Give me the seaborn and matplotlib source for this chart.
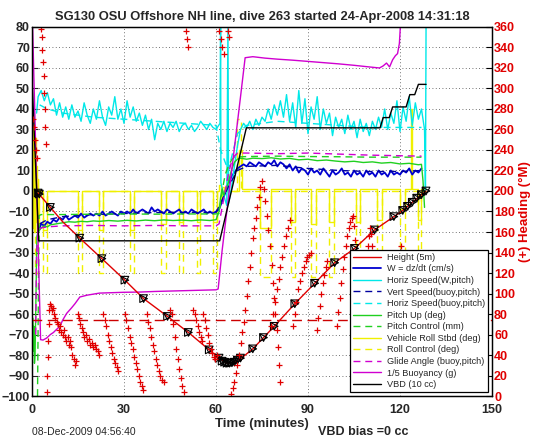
import numpy as np
import matplotlib
matplotlib.use("Agg")
import matplotlib.pyplot as plt
import seaborn as sns

# ---- data ----
TITLE = 'SG130 OSU Offshore NH line, dive 263 started 24-Apr-2008 14:31:18'

depth_time = [2, 4, 6, 10, 15.6, 22.8, 30.3, 36.4, 44.2, 51, 57.8, 61, 63.6, 66, 68.7, 72,
              75.5, 79, 85.7, 92.2, 98.7, 105.2, 111.7, 118, 120.9, 124, 128.5]
depth_val = [-1, -4.5, -8, -15, -23, -33, -43.5, -52.5, -61.2, -69, -77.5, -81.5, -84, -83.5, -81, -77,
             -71.5, -66, -55, -45, -35, -28, -19, -12.5, -9.5, -5.5, 0]

gc_time = [2.0, 2.4, 6.0, 15.6, 22.8, 30.3, 36.4, 44.2, 51.0, 57.8, 61.0, 62.0, 62.8, 63.6, 64.4, 65.2,
           66.0, 67.0, 68.0, 72.0, 75.5, 79.0, 85.7, 92.2, 98.7, 105.2, 111.7, 118.0, 120.9, 122.5,
           124.0, 125.5, 127.0, 128.5]
gc_depth = [-1, -1.5, -8, -23, -33, -43.5, -52.5, -61.2, -69, -77.5, -81.5, -83, -83.5, -84, -84, -83.8,
            -83.5, -82.5, -81.5, -77, -71.5, -66, -55, -45, -35, -28, -19, -12.5, -9.5, -7.5,
            -5.5, -3.5, -1.8, 0]

w_time = list(range(2, 128))
w_val = [-20, -16, -17, -15, -16, -14, -15, -13, -14, -12,
         -14, -13, -12, -13, -11, -13, -12, -11, -12, -11,
         -12, -10, -12, -11, -10, -11, -12, -10, -11, -10,
         -11, -9, -11, -10, -9, -10, -11, -8, -10, -9,
         -10, -11, -9, -10, -11, -10, -9, -11, -10, -11,
         -9, -10, -11, -10, -9, -11, -10, -11, -10, -9,
         -5, -1, 3, 7, 9, 11, 12, 13, 12, 14,
         13, 12, 14, 13, 12, 14, 13, 15, 12, 14,
         13, 11, 13, 10, 12, 9, 11, 10, 8, 11,
         9, 10, 8, 11, 9, 7, 10, 8, 9, 11,
         8, 9, 7, 10, 8, 9, 7, 10, 8, 9,
         7, 10, 8, 9, 7, 10, 8, 9, 8, 10,
         9, 11, 8, 10, 9, 11]

hspd_time = ([1.5] + list(range(2, 61)) + [61.3, 61.5, 61.6, 62.5, 63.5, 63.9, 64.1]
             + list(range(65, 128)) + [128.0, 128.3, 128.5])
hspd_val = [38,
            46, 49, 44, 48, 42, 45, 37, 43, 36, 41,
            35, 42, 36, 39, 34, 43, 37, 33, 40, 35,
            44, 36, 32, 41, 37, 46, 35, 40, 33, 44,
            36, 41, 34, 38, 32, 37, 30, 35, 25, 33,
            30, 34, 29, 33, 31, 34, 29, 32, 33, 30,
            32, 29, 31, 34, 32, 30, 33, 31, 30,
            33, 82, 4, -2, -7, 82, -6,
            1, 12, 22, 30, 33, 31, 34, 30, 35, 32,
            36, 34, 40, 35, 42, 37, 44, 36, 47, 34,
            43, 31, 49, 33, 45, 28, 41, 35, 46, 30,
            40, 33, 38, 27, 36, 31, 35, 28, 37, 30,
            34, 26, 35, 29, 33, 27, 34, 30, 36, 31,
            40, 30, 38, 33, 44, 29, 41, 34, 46, 32,
            43, 35, 40,
            30, 0, 82]

model_time = [2.5, 5, 10, 20, 30, 40, 50, 60, 61.5, 64, 67, 70, 80, 90, 100, 110, 120, 127]
vspd_model = [-16, -14, -12.5, -11.5, -11, -10.5, -10.5, -10.5, -6, 2, 10, 12, 12.5, 11, 10, 9.5, 9.5, 10]
hspd_model = [42, 40, 38, 36, 35, 34, 33, 32, 20, 10, 28, 32, 34, 33, 32, 31, 31, 31]

pitch_time = [0.3, 0.5, 0.6, 0.8, 1.0, 1.6, 2, 3, 4, 5, 6, 8, 10, 12, 14, 16, 18, 20, 22,
              25, 28, 31, 34, 37, 40, 43, 46, 49, 52, 55, 58, 60, 61, 61.5, 62, 62.5, 63, 64, 65,
              66, 67, 68, 70, 72, 75, 78, 81, 84, 87, 90, 93, 96, 99, 102, 105, 108, 111, 114,
              117, 120, 123, 126, 127, 127.5, 128]
pitch_val = [-62, -78, -66, -84, -80, -22, -20, -18, -17, -17.5, -16.5, -16, -15.5, -15, -15.2, -14.8,
             -15, -14.6, -14.8, -14.4, -14.7, -14.3, -14.6, -14.2, -14.5, -14.1, -14.4, -14.2,
             -14.5, -14.1, -14.4, -14, -10, -3, 1, -2, 0, 4, 10, 14, 15.5, 16, 15.5, 16, 15.8,
             16.2, 15.6, 15.9, 15.2, 15.5, 14.8, 15.1, 14.6, 14.2, 14.5, 13.9, 14.2, 13.6, 13.9,
             13.2, 13.5, 12.8, 13, 5, -8]

pctl_time = [1.8, 2.0, 2.3, 3, 10, 20, 30, 40, 50, 60, 61, 62, 63, 64, 65, 66, 70, 80, 90, 100,
             110, 120, 127]
pctl_val = [-100, -65, -12, -11.5, -11.5, -11.3, -11.2, -11.3, -11.2, -11.2, -11, 0, 8, 12, 15,
            16.5, 16.8, 17, 16.8, 16.7, 16.5, 16.5, 16.5]

roll_time = [0.2, 0.4, 0.6, 0.8, 1.0, 1.2, 1.4, 1.6, 1.8, 2.0, 2.3,
             3.5, 5.0, 15.0, 16.2, 22.0, 23.1, 32.0, 33.2, 42.0, 43.6, 48.0, 49.3, 53.7, 54.9,
             59.0, 60.2, 61.0, 61.5, 62.0, 62.5, 67.5, 68.5,
             74.5, 78.0, 84.6, 85.7, 91.0, 92.5, 97.0, 98.5, 105.8, 106.8, 112.5, 114.0,
             120.0, 121.5, 123.6, 124.0, 126.0, 127.0, 128.5]
roll_val = [30, -18, 22, -20, 26, -15, 12, -20, 6, -18, 0,
            -19, 0, -19, 0, -19, 0, -19, 0, -16, 0, -15, 0, -15, 0,
            -15, 0, 3, -4, 2, 0, 20, 1,
            -18, 1, -15, 1, -16, 1, -15, 1, -15, 1, -14, 1,
            -9, 1, 40, 1, -14, 1, 1]

rctl_time = [0.3, 1.0, 1.8, 3.5, 5.0, 15.0, 16.2, 22.0, 23.1, 32.0, 33.2, 42.0, 43.6, 48.0, 49.3,
             53.7, 54.9, 59.0, 60.2, 67.0, 68.2, 74.5, 78.0, 84.6, 85.7, 91.0, 92.5, 97.0, 98.5,
             105.8, 106.8, 112.5, 114.0, 120.0, 121.5, 126.0, 127.0, 128.5]
rctl_val = [0, -40, 0, -40, 0, -40, 0, -40, 0, -40, 0, -40, 0, -40, 0,
            -40, 0, -40, 0, 35, 0, -42, 0, -42, 0, -42, 0, -42, 0,
            -42, 0, -42, 0, -32, 0, -32, 0, 0]

glide_time = [1.2, 1.5, 2, 3, 5, 10, 20, 30, 40, 50, 60, 61, 62, 63, 64, 65, 66, 67, 70, 80, 90,
              100, 110, 120, 127]
glide_val = [-70, -30, -19, -18, -17.5, -17, -16.8, -17, -16.8, -17, -17, -16, -8, 0, 8, 14, 17,
             18.5, 18.5, 18.2, 18.5, 18, 17.5, 17.2, 17]

buoy_time = [0.0, 0.2, 2.8, 3.6, 4.8, 6, 7, 8, 9.1, 10, 11.3, 12.9, 14, 15.6, 18, 22, 26, 30, 35,
             40, 45, 50, 55, 60, 60.7, 62, 64, 66, 68, 69.5, 72, 76, 80, 85, 90, 95, 100, 105,
             110, 113.3, 114.5, 115.6, 116.6, 117.6, 118.5, 119.2, 119.8, 120.3]
buoy_val = [85, 80, -72.5, -72.7, -71.7, -70, -69, -67.5, -66, -63, -59.7, -57, -55, -51.7, -50.8,
            -49.8, -49.6, -49.4, -49.3, -49, -48.8, -48.6, -48.4, -48.2, -47.8, -29, -4, 21, 46,
            65, 65.5, 64.8, 64.3, 63.8, 63.2, 62.6, 62, 61.3, 60.5, 60, 61, 62.4, 60.5, 64, 66,
            67, 72, 85]

vbd_time = [0.0, 2.2, 61.2, 69.9, 113.5, 114.5, 116.5, 117.6, 122.0, 123.2, 124.8, 126.0, 128.5]
vbd_val = [55, -24.3, -24.3, 30.8, 30.8, 35.8, 35.8, 41, 41, 47, 47, 52, 52]

heading_target = 74
heading_time = [0.3, 0.6, 0.9, 1.2, 1.5,
                3.0, 3.2, 3.4, 3.6, 3.8, 4.0, 4.2, 4.4, 4.6,
                4.9, 5.0, 5.1, 5.2, 5.4, 5.6,
                6.0, 6.3, 6.6, 7.0, 7.3, 7.6, 8.0, 8.4, 8.8, 9.2, 9.6, 10.0, 10.4, 10.8, 11.2,
                11.6, 12.0, 12.4, 12.8, 13.2, 13.6, 14.0, 14.4,
                15.0, 15.4, 15.8, 16.2, 16.6, 17.0, 17.5, 18.0, 18.5, 19.0, 19.5, 20.0, 20.5,
                21.0, 21.5, 22.0,
                23.2, 23.7, 24.2, 24.7, 25.2, 25.7, 26.2, 26.7, 27.2, 27.7, 28.2,
                30.3, 30.8, 31.3, 31.8, 32.3, 32.8, 33.3, 33.8, 34.3, 34.8, 35.3, 35.8, 36.3,
                37.4, 37.9, 38.4, 38.9, 39.4, 39.9, 40.4, 40.9, 41.4, 41.9, 42.4, 42.9,
                45.0, 45.5, 46.0, 46.5, 47.0, 47.5, 48.0, 48.5, 49.0, 49.5,
                50.2, 50.5, 50.8,
                52.6, 53.0, 53.5, 54.0, 54.5, 55.0, 55.5,
                55.8, 56.3, 56.8, 57.3, 57.8, 58.3, 58.8, 59.3, 59.8, 60.2,
                61.0, 61.5, 62.0, 62.5, 64.0, 64.3,
                65.0, 65.5, 66.0, 66.5, 67.0, 67.5, 68.0, 68.5, 69.0, 69.5, 70.0, 70.5, 71.0,
                71.5, 72.0, 72.5, 73.0, 73.5, 74.0, 74.5, 75.0,
                75.6, 76.1, 76.6, 77.1, 77.6, 78.1, 78.6, 79.0, 79.4, 79.8, 80.2, 80.6, 81.0,
                78.0, 78.6, 79.2, 79.8, 80.4, 81.0, 81.6, 82.2, 82.8, 83.4, 84.0,
                85.0, 85.6, 86.2, 86.8, 87.4, 88.0, 88.6, 89.2, 89.8, 90.4, 91.0,
                92.8, 93.3, 93.8, 94.3, 94.8, 95.3, 95.8, 96.3,
                99.3, 99.8, 100.3, 100.8, 101.3, 101.8, 102.3, 102.8, 103.3, 103.8, 104.3, 104.6,
                105.0, 105.4, 105.8, 106.2,
                109.4, 109.7, 110.0, 110.3, 110.6, 110.9,
                119.8, 120.1, 120.4, 120.7,
                126.0, 126.3, 126.6, 126.9]
heading_deg = [270, 262, 250, 240, 232,
               358, 350, 338, 326, 312, 296, 280, 262, 246,
               4, 20, 38, 54, 70, 84,
               90, 88, 84, 86, 80, 76, 72, 70, 64, 68, 62, 60, 64, 58, 54,
               58, 50, 54, 48, 40, 36, 30, 34,
               80, 76, 70, 66, 62, 58, 60, 54, 56, 50, 52, 48, 50,
               46, 44, 40,
               80, 74, 68, 60, 54, 48, 42, 36, 32, 28, 24,
               80, 74, 66, 58, 52, 46, 38, 32, 26, 20, 14, 10, 6,
               80, 72, 66, 58, 50, 44, 36, 30, 24, 20, 16, 14,
               84, 80, 70, 58, 46, 36, 26, 18, 10, 4,
               356, 348, 340,
               84, 80, 74, 68, 62, 58, 54,
               80, 74, 66, 60, 52, 46, 42, 38, 36, 40,
               356, 348, 340, 334, 356, 350,
               2, 8, 14, 22, 30, 40, 52, 62, 72, 84, 98, 112, 126,
               140, 154, 164, 174, 184, 194, 204, 210,
               202, 190, 176, 162, 146, 128, 110, 96, 80, 64, 48, 30, 14,
               68, 80, 92, 104, 114, 126, 136, 146, 156, 164, 172,
               68, 80, 92, 104, 112, 120, 126, 132, 136, 138, 140,
               64, 76, 88, 100, 110, 118, 126, 132,
               68, 82, 96, 110, 124, 136, 146, 156, 164, 170, 174, 176,
               166, 152, 138, 124,
               138, 146, 156, 164, 158, 146,
               134, 140, 146, 138,
               130, 136, 140, 134]

# ---- styling ----
sns.set_style("white")
plt.rcParams['font.family'] = ['Liberation Sans', 'DejaVu Sans']

RED = '#e00000'
BLUE = '#0000d0'
CYAN = '#00e8e8'
GREEN = '#20d020'
YELLOW = '#f0f000'
MAGENTA = '#d000d0'
DASH = (0, (5, 3.5))

fig = plt.figure(figsize=(5.46, 4.42), dpi=100)
ax = fig.add_axes([0.0586, 0.104, 0.8425, 0.835])
ax2 = ax.twinx()


def draw(x, y, color, label, ls='-', lw=1.0, z=2, steps=False):
    sns.lineplot(x=x, y=y, color=color, linestyle=ls, linewidth=lw, label=label,
                 sort=False, estimator=None, errorbar=None, legend=False, ax=ax, zorder=z,
                 drawstyle='steps-post' if steps else 'default')


draw(depth_time, depth_val, RED, 'Height (5m)', z=3)
draw(w_time, w_val, BLUE, 'W = dz/dt (cm/s)', lw=1.3)
draw(hspd_time, hspd_val, CYAN, 'Horiz Speed(W,pitch)')
draw(model_time, vspd_model, '#0000a0', 'Vert Speed(buoy,pitch)', ls=DASH)
draw(model_time, hspd_model, CYAN, 'Horiz Speed(buoy,pitch)', ls=DASH)
draw(pitch_time, pitch_val, GREEN, 'Pitch Up (deg)')
draw(pctl_time, pctl_val, GREEN, 'Pitch Control (mm)', ls=DASH)
draw(roll_time, roll_val, YELLOW, 'Vehicle Roll Stbd (deg)', z=1.5, steps=True)
draw(rctl_time, rctl_val, YELLOW, 'Roll Control (deg)', ls=DASH, z=1.5, steps=True)
draw(glide_time, glide_val, MAGENTA, 'Glide Angle (buoy,pitch)', ls=DASH)
draw(buoy_time, buoy_val, MAGENTA, '1/5 Buoyancy (g)')
draw(vbd_time, vbd_val, 'k', 'VBD (10 cc)')

# guidance & control markers on the depth trace
sns.scatterplot(x=gc_time, y=gc_depth, marker='v', s=30, facecolors='none',
                edgecolors='k', linewidths=0.8, ax=ax, zorder=4, legend=False)
sns.scatterplot(x=gc_time, y=gc_depth, marker='>', s=30, facecolors='none',
                edgecolors='k', linewidths=0.8, ax=ax, zorder=4, legend=False)

# heading on the right axis
sns.scatterplot(x=heading_time, y=heading_deg, marker='+', s=14, color=RED,
                linewidth=0.9, ax=ax2, legend=False)
ax2.axhline(heading_target, color='#cc0000', linestyle=(0, (7, 4)), linewidth=1.0)

# axes
ax.set_xlim(0, 150)
ax.set_ylim(-100, 80)
ax.set_xticks(np.arange(0, 151, 30))
ax.set_yticks(np.arange(-100, 81, 10))
ax.grid(True, linestyle=(0, (1, 3)), color='#444444', linewidth=0.6)
ax.tick_params(direction='in', length=4, labelsize=9, pad=1.5)
ax.tick_params(axis='x', pad=6)
for lab in ax.get_xticklabels() + ax.get_yticklabels():
    lab.set_fontweight('bold')
ax.set_xlabel('Time (minutes)', fontsize=9.5, fontweight='bold', labelpad=1)
ax.set_ylabel('')
ax.set_title(TITLE, fontsize=9.3, fontweight='bold', pad=5)

ax2.set_ylim(0, 360)
ax2.set_yticks(np.arange(0, 361, 20))
ax2.tick_params(direction='in', length=4, labelsize=9, pad=1.5)
ax2.tick_params(axis='y', colors='k', labelcolor=RED)
for lab in ax2.get_yticklabels():
    lab.set_fontweight('bold')
ax2.set_ylabel('(+) Heading (°M)', color=RED, fontsize=9.5, fontweight='bold', labelpad=3)

for a in (ax, ax2):
    for sp in a.spines.values():
        sp.set_color('k')
        sp.set_linewidth(0.9)
        sp.set_visible(True)

handles, labels = ax.get_legend_handles_labels()
leg = ax2.legend(handles, labels, loc='lower right', fontsize=6.6, frameon=True,
                 fancybox=False, framealpha=1, edgecolor='k', handlelength=3.0,
                 borderpad=0.35, labelspacing=0.28, handletextpad=0.7, borderaxespad=0.4)
leg.get_frame().set_linewidth(0.9)
leg.set_zorder(10)

fig.text(0.058, 0.015, '08-Dec-2009 04:56:40', fontsize=7.5)
fig.text(0.582, 0.015, 'VBD bias =0 cc', fontsize=9, fontweight='bold')

fig.savefig('out.png', dpi=100)
